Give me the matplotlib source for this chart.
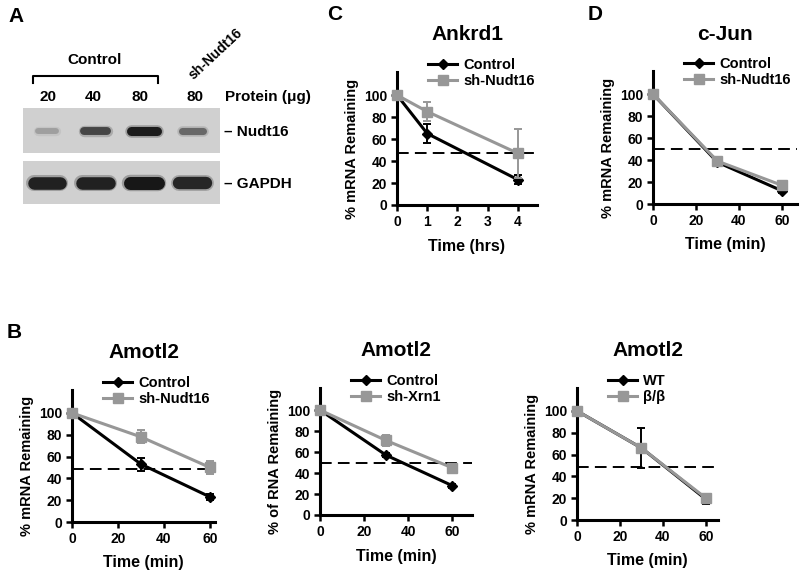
import matplotlib.pyplot as plt
from matplotlib.lines import Line2D

plt.rcParams['font.family'] = ['Liberation Sans', 'DejaVu Sans']
plt.rcParams['font.weight'] = 'bold'

W, H = 800, 577
GREY = '#979797'

# ---- data ----
blot_lanes = ['20', '40', '80', '80']
nudt16_band = [0.22, 0.7, 0.97, 0.5]
gapdh_band = [0.93, 0.93, 1.0, 0.9]

ankrd1_t = [0, 1, 4]
ankrd1_ctrl = [100, 65, 23]
ankrd1_ctrl_err = [0, 9, 4]
ankrd1_sh = [100, 85, 47]
ankrd1_sh_err = [0, 9, 22]

cjun_t = [0, 30, 60]
cjun_ctrl = [100, 38, 12]
cjun_ctrl_err = [0, 2, 2]
cjun_sh = [100, 39, 17]
cjun_sh_err = [0, 3, 3]

amotl2_t = [0, 30, 60]
nudt_ctrl = [100, 53, 23]
nudt_ctrl_err = [0, 6, 3]
nudt_sh = [100, 78, 50]
nudt_sh_err = [0, 6, 6]
xrn_ctrl = [100, 57, 28]
xrn_ctrl_err = [0, 2, 2]
xrn_sh = [100, 71, 45]
xrn_sh_err = [0, 5, 3]
wt = [100, 66, 19]
wt_err = [0, 18, 4]
bb = [100, 66, 20]
bb_err = [0, 3, 4]

fig = plt.figure(figsize=(8, 5.77), dpi=100)


def fx(x):
    return x / W


def fy(y):
    return 1 - y / H


def box(l, t, r, b):
    return [fx(l), fy(b), (r - l) / W, (b - t) / H]


def txt(x, y, s, size, **kw):
    fig.text(fx(x), fy(y), s, fontsize=size, fontweight='bold',
             ha=kw.pop('ha', 'center'), va=kw.pop('va', 'center'), **kw)


# ---- panel A: western blot ----
for top, bot, vals, name, thick in [(108, 153, nudt16_band, 'Nudt16', 6.0),
                                    (161, 204, gapdh_band, 'GAPDH', 8.5)]:
    ax = fig.add_axes(box(23, top, 220, bot))
    ax.set_xlim(-0.5, 3.57)
    ax.set_ylim(-1, 1)
    ax.set_facecolor('#d0d0d0')
    ax.set_xticks([])
    ax.set_yticks([])
    for s in ax.spines.values():
        s.set_visible(False)
    for i, v in enumerate(vals):
        hw = 0.16 + 0.12 * v if name == 'Nudt16' else 0.2 + 0.08 * v
        lw = thick * (0.6 + 0.5 * v)
        ax.plot([i - hw, i + hw], [0, 0], color='black', lw=lw + 2.5,
                alpha=0.25 * v, solid_capstyle='round')
        ax.plot([i - hw, i + hw], [0, 0], color='black', lw=lw,
                alpha=0.85 * v, solid_capstyle='round')
    txt(224, (top + bot) / 2 + 1, '\u2013 ' + name, 11, ha='left')

lane_x = [48, 93, 140, 195]
for x, lab in zip(lane_x, blot_lanes):
    txt(x, 97, lab, 11)
txt(225, 97, 'Protein (\u03bcg)', 11, ha='left')
fig.add_artist(Line2D([fx(33), fx(33), fx(158), fx(158)],
                      [fy(83), fy(76), fy(76), fy(83)], color='black', lw=1.5))
txt(95, 60, 'Control', 11)
txt(216, 54, 'sh-Nudt16', 10, rotation=43)
txt(16, 17, 'A', 15)
txt(335, 15, 'C', 15)
txt(595, 15, 'D', 15)
txt(14, 332, 'B', 15)


# ---- decay curves ----
def decay(bx, xmax, t, ctrl, ctrl_err, sh, sh_err, half, xticks,
          title, leg, ylab, xlab):
    ax = fig.add_axes(box(*bx))
    ax.set_xlim(0, xmax)
    ax.set_ylim(0, 121)
    ax.axhline(half, color='black', lw=1.4, dashes=(6, 3.2))
    ax.errorbar(t, ctrl, yerr=ctrl_err, color='black', marker='D', ms=5,
                lw=2.2, elinewidth=1.4, capsize=3, capthick=1.4, clip_on=False, zorder=3)
    ax.errorbar(t, sh, yerr=sh_err, color=GREY, marker='s', ms=7.5,
                lw=2.2, elinewidth=1.4, capsize=3, capthick=1.4, clip_on=False, zorder=4)
    for s in ['top', 'right']:
        ax.spines[s].set_visible(False)
    for s in ['left', 'bottom']:
        ax.spines[s].set_linewidth(2.2)
    ax.set_xticks(xticks)
    ax.set_yticks([0, 20, 40, 60, 80, 100])
    ax.tick_params(direction='out', length=4, width=1.8, labelsize=10, pad=3)
    for lab in ax.get_xticklabels() + ax.get_yticklabels():
        lab.set_fontweight('bold')
    l, t_, r, b = bx
    txt((l + r) / 2, t_ - 37, title, 15)
    handles = [Line2D([], [], color='black', marker='D', ms=5, lw=2.2),
               Line2D([], [], color=GREY, marker='s', ms=7.5, lw=2.2)]
    ax.legend(handles, leg, loc='upper left', frameon=False,
              bbox_to_anchor=(fx(l + 31), fy(t_ - 14)),
              bbox_transform=fig.transFigure, borderpad=0,
              borderaxespad=0, handlelength=2.0, handletextpad=0.4,
              labelspacing=0.15, numpoints=1, prop={'size': 10.5, 'weight': 'bold'})
    txt(l - 45, (t_ + b) / 2 + 10, ylab, 10.5, rotation=90)
    txt((l + r) / 2, b + 41, xlab, 11.5)
    return ax


decay((397, 72, 537, 205), 4.63, ankrd1_t, ankrd1_ctrl, ankrd1_ctrl_err,
      ankrd1_sh, ankrd1_sh_err, 47, [0, 1, 2, 3, 4], 'Ankrd1',
      ['Control', 'sh-Nudt16'], '% mRNA Remaining', 'Time (hrs)')
decay((653, 71, 797, 204), 67, cjun_t, cjun_ctrl, cjun_ctrl_err,
      cjun_sh, cjun_sh_err, 50, [0, 20, 40, 60], 'c-Jun',
      ['Control', 'sh-Nudt16'], '% mRNA Remaining', 'Time (min)')
decay((72, 390, 215, 522), 62.2, amotl2_t, nudt_ctrl, nudt_ctrl_err,
      nudt_sh, nudt_sh_err, 49, [0, 20, 40, 60], 'Amotl2',
      ['Control', 'sh-Nudt16'], '% mRNA Remaining', 'Time (min)')
decay((320, 388, 472, 515), 69, amotl2_t, xrn_ctrl, xrn_ctrl_err,
      xrn_sh, xrn_sh_err, 50, [0, 20, 40, 60], 'Amotl2',
      ['Control', 'sh-Xrn1'], '% of RNA Remaining', 'Time (min)')
decay((577, 388, 718, 520), 65.6, amotl2_t, wt, wt_err,
      bb, bb_err, 49, [0, 20, 40, 60], 'Amotl2',
      ['WT', '\u03b2/\u03b2'], '% mRNA Remaining', 'Time (min)')

fig.savefig('out.png', dpi=100)
